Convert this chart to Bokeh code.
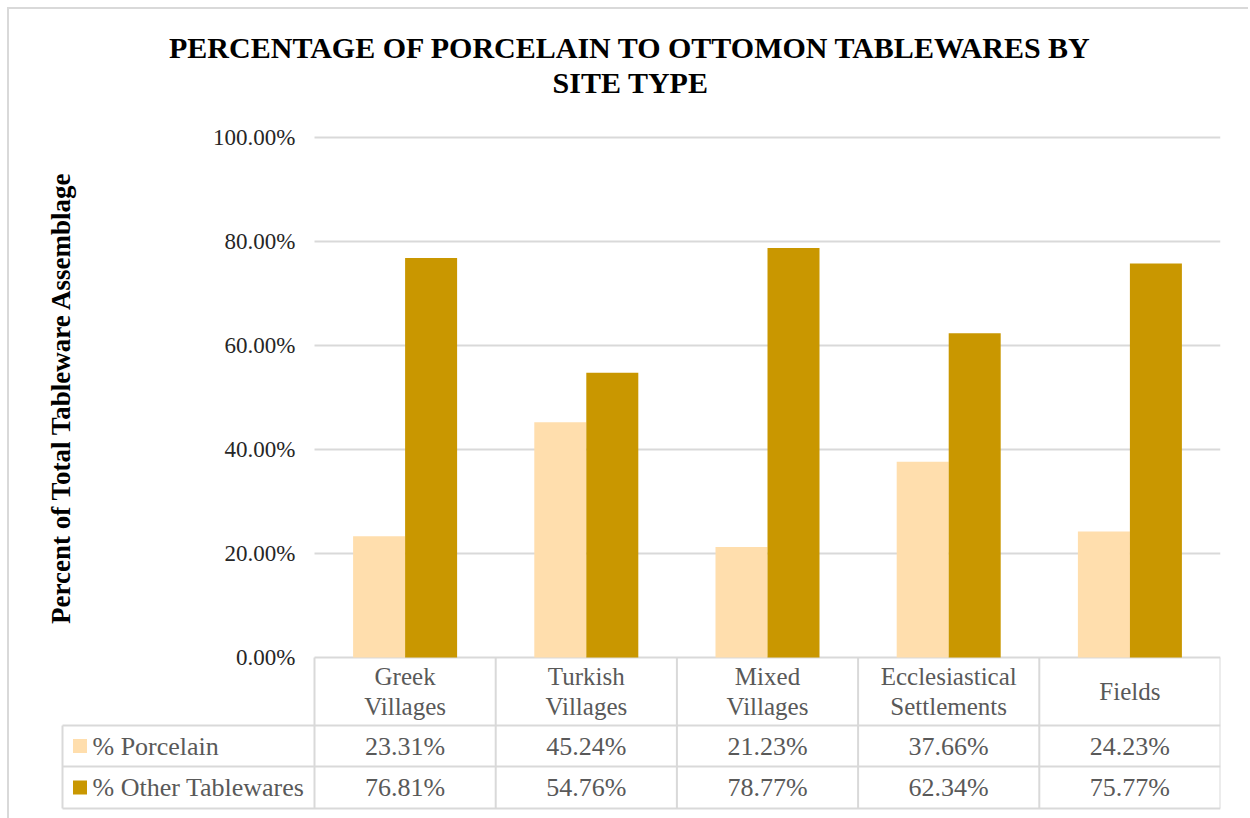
from bokeh.plotting import figure
from bokeh.models import Range1d, LinearAxis, FixedTicker, PrintfTickFormatter, Title
from bokeh.core.properties import value
from bokeh.embed import file_html
from bokeh.resources import INLINE

# ---------------- data ----------------
categories = ["Greek\nVillages", "Turkish\nVillages", "Mixed\nVillages",
              "Ecclesiastical\nSettlements", "Fields"]
series_names = ["% Porcelain", "% Other Tablewares"]
porcelain = [23.31, 45.24, 21.23, 37.66, 24.23]
other = [76.81, 54.76, 78.77, 62.34, 75.77]
y_ticks = [0, 20, 40, 60, 80, 100]

title_lines = ["PERCENTAGE OF PORCELAIN TO OTTOMON TABLEWARES BY", "SITE TYPE"]
y_title = "Percent of Total Tableware Assemblage"

# ---------------- styles / layout ----------------
COLORS = ["#FFDEAD", "#C99700"]
LINE = "#D9D9D9"
FONT = "Liberation Serif"
TXT = "#595959"

PX_X = 181.2          # pixels per category
PX_Y = 5.2            # pixels per percent point
LEFT_COL = -252 / PX_X  # left edge of table label column
BAR_W = 0.287

# table rows (in y data units, below 0)
ROW1_TOP = -68 / PX_Y
ROW2_TOP = -109 / PX_Y
TBL_BOT = -151 / PX_Y
HEAD_MID = -34 / PX_Y
ROW1_MID = -88.5 / PX_Y
ROW2_MID = -130 / PX_Y

n = len(categories)
centers = [i + 0.5 for i in range(n)]

p = figure(width=1241, height=811, output_backend="svg", toolbar_location=None,
           x_range=Range1d(-274 / PX_X, n), y_range=Range1d(-155 / PX_Y, 559 / PX_Y),
           x_axis_location=None, y_axis_location=None,
           min_border_left=31, min_border_right=30, min_border_top=89, min_border_bottom=8,
           background_fill_color="white", border_fill_color="white")
p.outline_line_color = None
p.xgrid.visible = False
p.ygrid.visible = False
p.styles = {"margin-left": "7px", "margin-top": "7px",
            "border-left": "2px solid #D9D9D9", "border-top": "2px solid #D9D9D9"}

# title (two centred lines: main title is the outer one)
p.title.text = title_lines[0]
p.title.align = "center"
p.title.text_font = FONT
p.title.text_font_size = "30px"
p.title.text_font_style = "bold"
p.title.text_color = "black"
p.title.standoff = 0
p.add_layout(Title(text=title_lines[1], align="center", text_font=FONT, text_font_size="30px",
                   text_font_style="bold", text_color="black", standoff=0), "above")

# gridlines (0 line doubles as top of table)
p.segment(x0=[0] * len(y_ticks), x1=[n] * len(y_ticks), y0=y_ticks, y1=y_ticks,
          line_color=LINE, line_width=2)

# bars
p.vbar(x=[c - BAR_W / 2 for c in centers], top=porcelain, bottom=0, width=BAR_W,
       fill_color=COLORS[0], line_color=None)
p.vbar(x=[c + BAR_W / 2 for c in centers], top=other, bottom=0, width=BAR_W,
       fill_color=COLORS[1], line_color=None)

# y axis at x = 0
yaxis = LinearAxis(fixed_location=0, ticker=FixedTicker(ticks=y_ticks), bounds=(0, 100),
                   formatter=PrintfTickFormatter(format="%.2f%%"))
yaxis.axis_line_color = None
yaxis.major_tick_line_color = None
yaxis.minor_tick_line_color = None
yaxis.major_tick_out = 0
yaxis.major_tick_in = 0
yaxis.major_label_standoff = 19
yaxis.major_label_text_font = FONT
yaxis.major_label_text_font_size = "23px"
yaxis.major_label_text_color = "#262626"
yaxis.axis_label = y_title
yaxis.axis_label_text_font = FONT
yaxis.axis_label_text_font_size = "27px"
yaxis.axis_label_text_font_style = "bold"
yaxis.axis_label_text_color = "black"
yaxis.axis_label_standoff = 134
p.add_layout(yaxis, "left")

# data table lines
for yy in [ROW1_TOP, ROW2_TOP, TBL_BOT]:
    p.segment(x0=[LEFT_COL], x1=[n], y0=[yy], y1=[yy], line_color=LINE, line_width=2)
p.segment(x0=list(range(n + 1)), x1=list(range(n + 1)), y0=[0] * (n + 1), y1=[TBL_BOT] * (n + 1),
          line_color=LINE, line_width=2)
p.segment(x0=[LEFT_COL], x1=[LEFT_COL], y0=[ROW1_TOP], y1=[TBL_BOT], line_color=LINE, line_width=2)

# header (category names)
p.text(x=centers, y=[HEAD_MID] * n, text=categories, text_align="center", text_baseline="middle",
       text_font=value(FONT), text_font_size="25px", text_color=TXT, text_line_height=1.1)

# legend keys and row labels
p.scatter(x=[LEFT_COL + 17.5 / PX_X] * 2, y=[ROW1_MID, ROW2_MID], marker="square", size=14,
          fill_color=COLORS, line_color=None)
p.text(x=[LEFT_COL + 30 / PX_X] * 2, y=[ROW1_MID, ROW2_MID], text=series_names,
       text_align="left", text_baseline="middle",
       text_font=value(FONT), text_font_size="26px", text_color=TXT)

# values
vx = centers + centers
vy = [ROW1_MID] * n + [ROW2_MID] * n
vt = [f"{v:.2f}%" for v in porcelain] + [f"{v:.2f}%" for v in other]
p.text(x=vx, y=vy, text=vt, text_align="center", text_baseline="middle",
       text_font=value(FONT), text_font_size="26px", text_color=TXT)

open("out.html", "w").write(file_html(p, INLINE))
